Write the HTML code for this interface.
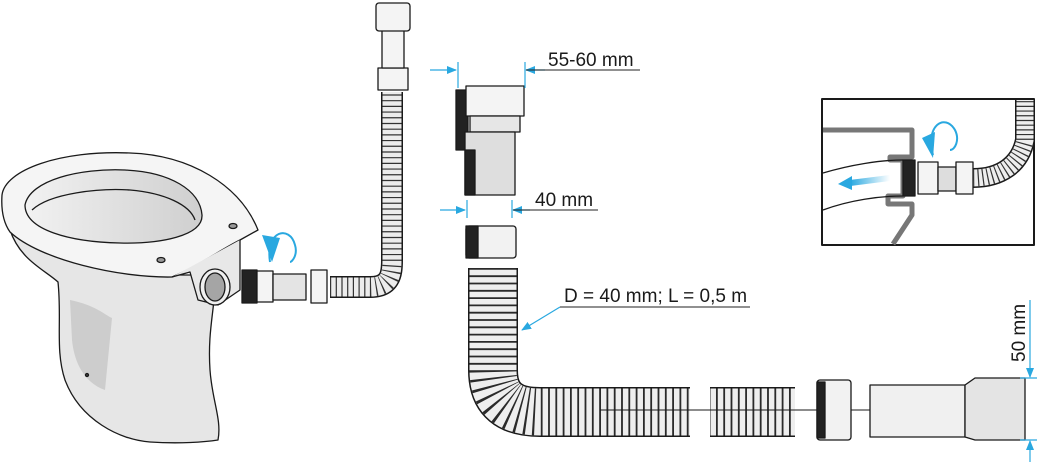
<!DOCTYPE html>
<html><head><style>
html,body{margin:0;padding:0;background:#fff;}
svg{display:block;font-family:"Liberation Sans",sans-serif;}
</style></head><body>
<svg width="1037" height="466" viewBox="0 0 1037 466" xmlns="http://www.w3.org/2000/svg">
<defs>
<linearGradient id="g1" x1="0" x2="1"><stop offset="0" stop-color="#f2f2f2"/><stop offset="1" stop-color="#cfcfcf"/></linearGradient>
<linearGradient id="bl" x1="1" x2="0"><stop offset="0" stop-color="#29a8e0" stop-opacity="0"/><stop offset="1" stop-color="#29a8e0"/></linearGradient>
<marker id="ar" markerWidth="10" markerHeight="8" refX="9" refY="4" orient="auto" markerUnits="userSpaceOnUse"><path d="M0,0 L10,4 L0,8 Z" fill="#29a8e0"/></marker>
</defs>
<g stroke="#1a1a1a" stroke-width="1.3" stroke-linejoin="round">
<path d="M10,230 C20,260 45,270 58,282 C62,320 55,350 65,380 C80,420 120,440 150,442 C180,444 205,442 218,440 C222,420 212,400 210,370 C208,340 212,320 214,300 L205,296 L198,275 L175,275 C130,272 60,260 10,230 Z" fill="#e6e6e6"/>
<path d="M70,300 C95,305 105,315 112,318 L105,390 C90,385 75,370 72,340 Z" fill="#cdcdcd" stroke="none"/>
<path d="M2,195 C5,170 60,150 130,153 C190,155 240,185 258,230 L240,240 C220,250 200,265 172,277 C120,278 40,260 10,232 C3,222 1,210 2,195 Z" fill="#f5f5f5"/>
<path d="M25,205 C30,180 80,168 125,170 C170,172 200,190 202,215 C203,236 160,244 120,243 C70,242 25,230 25,205 Z" fill="url(#g1)"/>
<path d="M32,210 C50,193 100,188 130,190 C165,193 190,205 195,220" fill="none"/>
<path d="M172,277 L190,272 L198,300 L218,305 L240,290 L240,240" fill="#e8e8e8"/>
<ellipse cx="215" cy="287" rx="15" ry="18" fill="#f0f0f0"/>
<ellipse cx="215" cy="287" rx="10" ry="14" fill="#a5a5a5"/>
<ellipse cx="233" cy="226" rx="4" ry="2.5" fill="#999"/>
<ellipse cx="161" cy="260" rx="4" ry="2.5" fill="#999"/>
<circle cx="87" cy="375" r="1.5" fill="#444"/>
<rect x="242" y="270" width="15" height="33" fill="#222"/>
<rect x="257" y="271" width="16" height="31" fill="#f4f4f4"/>
<rect x="273" y="274" width="33" height="26" fill="#e4e4e4"/>
<rect x="311" y="270" width="16" height="33" fill="#f4f4f4"/>
<path d="M330,287 L370,287 C390,287 392,275 392,260 L392,92" fill="none" stroke="#1a1a1a" stroke-width="22"/>
<path d="M330,287 L370,287 C390,287 392,275 392,260 L392,92" fill="none" stroke="#ececec" stroke-width="19"/>
<path d="M330,287 L370,287 C390,287 392,275 392,260 L392,92" fill="none" stroke="#333" stroke-width="19" stroke-dasharray="1.2 4.5"/>
<rect x="378" y="68" width="30" height="22" fill="#f4f4f4"/>
<rect x="382" y="30" width="22" height="38" fill="#f4f4f4"/>
<rect x="376" y="3" width="34" height="28" rx="3" fill="#f4f4f4"/>
<rect x="456" y="90" width="12" height="60" fill="#222"/>
<rect x="466" y="86" width="58" height="30" fill="#f4f4f4"/>
<rect x="470" y="116" width="50" height="16" fill="#e6e6e6"/>
<rect x="465" y="132" width="50" height="63" fill="#dedede"/>
<rect x="465" y="150" width="10" height="45" fill="#222"/>
<rect x="466" y="226" width="50" height="32" rx="3" fill="#f2f2f2"/>
<rect x="466" y="226" width="12" height="32" fill="#222"/>
<path d="M493,268 L493,370 C493,400 510,412 540,412 L795,412" fill="none" stroke="#1a1a1a" stroke-width="50"/>
<path d="M493,268 L493,370 C493,400 510,412 540,412 L795,412" fill="none" stroke="#eeeeee" stroke-width="47"/>
<path d="M493,268 L493,370 C493,400 510,412 540,412 L795,412" fill="none" stroke="#2a2a2a" stroke-width="47" stroke-dasharray="1.8 5.5"/>
<rect x="690" y="384" width="20" height="56" fill="#fff" stroke="none"/>
<line x1="600" y1="410" x2="960" y2="410" stroke-width="1"/>
<rect x="817" y="380" width="34" height="60" rx="3" fill="#f2f2f2"/>
<rect x="817" y="382" width="8" height="56" fill="#222"/>
<rect x="870" y="385" width="95" height="52" fill="#f0f0f0"/>
<path d="M965,385 L975,378 L1025,378 L1025,440 L975,440 L965,437 Z" fill="#e4e4e4"/>
<rect x="822" y="99" width="212" height="146" fill="#fff" stroke-width="2"/>
<path d="M823,130 L912,130 L912,157 L890,157 L890,160 L903,160 L903,196 L888,196 L888,204 L912,204 L912,215 L893,244" fill="none" stroke="#777" stroke-width="5"/>
<path d="M823,173 C850,165 880,160 903,160 M823,210 C850,200 880,196 903,196" fill="none"/>
<rect x="903" y="160" width="12" height="36" fill="#222"/>
<rect x="918" y="162" width="20" height="32" fill="#f4f4f4"/>
<rect x="938" y="167" width="18" height="24" fill="#ddd"/>
<rect x="956" y="162" width="17" height="32" fill="#f4f4f4"/>
<path d="M973,178 C1000,178 1020,165 1025,140 L1025,100" fill="none" stroke="#1a1a1a" stroke-width="20"/>
<path d="M973,178 C1000,178 1020,165 1025,140 L1025,100" fill="none" stroke="#eee" stroke-width="17"/>
<path d="M973,178 C1000,178 1020,165 1025,140 L1025,100" fill="none" stroke="#333" stroke-width="17" stroke-dasharray="1.2 3.5"/>
</g>
<path d="M270,262 C265,230 290,225 295,245 C298,255 292,262 290,262" fill="none" stroke="#29a8e0" stroke-width="2"/>
<path d="M262,235 L280,238 L272,262 Z" fill="#29a8e0"/>
<path d="M933,155 C925,125 945,113 955,130 C960,140 955,150 950,150" fill="none" stroke="#29a8e0" stroke-width="2"/>
<path d="M922,138 L935,132 L933,158 Z" fill="#29a8e0"/>
<path d="M890,178 L850,183" stroke="url(#bl)" stroke-width="6" fill="none"/>
<path d="M838,184 L852,176 L852,190 Z" fill="#29a8e0"/>
<g stroke="#29a8e0" stroke-width="1.2" fill="none">
<line x1="430" y1="70" x2="456" y2="70" marker-end="url(#ar)"/>
<line x1="545" y1="70" x2="526" y2="70" marker-end="url(#ar)"/>
<line x1="458" y1="62" x2="458" y2="88"/><line x1="525" y1="62" x2="525" y2="88"/>
<line x1="440" y1="210" x2="465" y2="210" marker-end="url(#ar)"/>
<line x1="530" y1="210" x2="513" y2="210" marker-end="url(#ar)"/>
<line x1="467" y1="200" x2="467" y2="218"/><line x1="512" y1="200" x2="512" y2="218"/>
<line x1="560" y1="307" x2="522" y2="330" marker-end="url(#ar)"/>
<line x1="1030" y1="300" x2="1030" y2="377" marker-end="url(#ar)"/>
<line x1="1030" y1="462" x2="1030" y2="441" marker-end="url(#ar)"/>
<line x1="1020" y1="378" x2="1037" y2="378"/><line x1="1020" y1="440" x2="1037" y2="440"/>
</g>
<g stroke="#222" stroke-width="1">
<line x1="526" y1="70" x2="640" y2="70"/>
<line x1="513" y1="210" x2="598" y2="210"/>
<line x1="560" y1="307" x2="750" y2="307"/>
</g>
<g font-size="19" fill="#1a1a1a">
<text x="548" y="66">55-60 mm</text>
<text x="535" y="206">40 mm</text>
<text x="564" y="302">D = 40 mm; L = 0,5 m</text>
<text transform="translate(1025,362) rotate(-90)">50 mm</text>
</g>
</svg>
</body></html>
